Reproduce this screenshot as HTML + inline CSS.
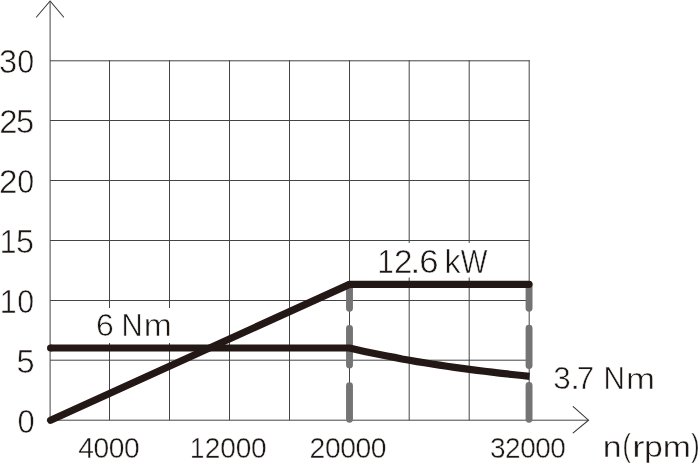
<!DOCTYPE html>
<html><head><meta charset="utf-8"><title>chart</title>
<style>
html,body{margin:0;padding:0;background:#fff;}
body{width:698px;height:465px;overflow:hidden;}
svg{display:block;}
text{font-family:"Liberation Sans",sans-serif;font-size:100px;fill:#1c1614;stroke:#fff;stroke-linejoin:round;}
</style></head><body>
<svg width="698" height="465" viewBox="0 0 698 465">
<rect width="698" height="465" fill="#fff"/>
<path d="M109.5 60.3V420.2M169.5 60.3V420.2M229.5 60.3V420.2M289.5 60.3V420.2M349.5 60.3V420.2M409.2 60.3V420.2M469.2 60.3V420.2M529.2 60.3V420.2M50.1 60.8H529.7M50.1 120.5H529.7M50.1 180.5H529.7M50.1 240.5H529.7M50.1 300.5H529.7M50.1 360.2H529.7" fill="none" stroke="#444" stroke-width="1"/>
<path d="M50.1 1.5V420.2H588.5" fill="none" stroke="#444" stroke-width="1"/>
<path d="M36.5 17L50.1 1L63.6 17M573.2 406.6L588.5 420.2L573.2 432.9" fill="none" stroke="#3a3a3a" stroke-width="1.1" stroke-linecap="round"/>
<rect x="94" y="308" width="80" height="35" fill="#fff"/>
<rect x="376" y="243" width="115" height="34.5" fill="#fff"/>
<g fill="none" stroke="#747474" stroke-width="6.9" stroke-linecap="round">
<path d="M349.5 284.5V308.2M349.5 328.4V364.9M349.5 385.8V419.3"/>
<path d="M529.05 284.5V308.3M529.05 328.2V365.5M529.05 385.5V419.3"/>
</g>
<g fill="none" stroke="#231815" stroke-width="7.2" stroke-linejoin="round">
<path d="M50.6 348.0H349.5L357.0 349.76 364.5 351.43 372.0 353.02 379.5 354.55 387.0 356.00 394.5 357.39 402.0 359.02 409.5 360.30 417.0 361.59 424.5 362.82 432.0 364.02 439.5 365.17 447.0 366.27 454.5 367.34 462.0 368.37 469.5 369.37 477.0 370.34 484.5 371.27 492.0 372.17 499.5 373.05 507.0 373.90 514.5 374.72 522.0 375.52 529.5 376.30" stroke-linecap="butt"/>
<path d="M50.6 420.3L349.5 284.35H529.0" stroke-linecap="round"/>
</g>
<circle cx="50.6" cy="348" r="3.6" fill="#231815"/>
<g fill="none" stroke="#1c1614">

</g>
<g opacity="0.999">
<text stroke-width="1.69" transform="matrix(0.3151 0 0 0.3343 0 73.23)"><tspan x="-3.2" textLength="57.5" lengthAdjust="spacingAndGlyphs">3</tspan><tspan x="54.7" textLength="53.7" lengthAdjust="spacingAndGlyphs">0</tspan></text>
<text x="-2.5 48.8" stroke-width="1.66" transform="matrix(0.3281 0 0 0.3343 0 133.22)">25</text>
<text stroke-width="1.69" transform="matrix(0.3181 0 0 0.3343 0 193.22)"><tspan x="-3" textLength="58.1" lengthAdjust="spacingAndGlyphs">2</tspan><tspan x="54.2" textLength="53.2" lengthAdjust="spacingAndGlyphs">0</tspan></text>
<text stroke-width="1.70" transform="matrix(0.3126 0 0 0.3343 0 253.22)"><tspan x="-0.5" textLength="53.4" lengthAdjust="spacingAndGlyphs">1</tspan><tspan x="51.3" textLength="57.6" lengthAdjust="spacingAndGlyphs">5</tspan></text>
<text x="-0.5 56.9" stroke-width="1.73" transform="matrix(0.3030 0 0 0.3343 0 313.22)">10</text>
<text x="51" stroke-width="1.67" transform="matrix(0.3259 0 0 0.3343 0 373.22)">5</text>
<text x="56.8" stroke-width="1.71" transform="matrix(0.3086 0 0 0.3343 0 433.22)">0</text>
<text x="277.8 331.8 385.8 439.8" stroke-width="1.39" transform="matrix(0.2820 0 0 0.2922 0 457.50)">4000</text>
<text stroke-width="1.40" transform="matrix(0.2805 0 0 0.2922 0 457.50)"><tspan x="677.6" textLength="51.1" lengthAdjust="spacingAndGlyphs">1</tspan><tspan x="730.3 785.2 840.2 895.2">2000</tspan></text>
<text x="1092.4 1146.4 1200.3 1254.3 1308.2" stroke-width="1.39" transform="matrix(0.2834 0 0 0.2922 0 457.50)">20000</text>
<text x="1752.4 1806.3 1860.3 1914.2 1968.1" stroke-width="1.40" transform="matrix(0.2796 0 0 0.2922 0 457.50)">32000</text>
<text stroke-width="1.76" transform="matrix(0.3049 0 0 0.3219 0 335.67)"><tspan x="315.2" textLength="58.3" lengthAdjust="spacingAndGlyphs">6</tspan><tspan x="345.2"> </tspan><tspan x="398.6" textLength="69.3" lengthAdjust="spacingAndGlyphs">N</tspan><tspan x="471.9" font-size="97.3" textLength="92.2" lengthAdjust="spacingAndGlyphs">m</tspan></text>
<text stroke-width="1.73" transform="matrix(0.3128 0 0 0.3249 0 272.88)"><tspan x="1206.9" textLength="51.8" lengthAdjust="spacingAndGlyphs">1</tspan><tspan x="1259.5" textLength="59.1" lengthAdjust="spacingAndGlyphs">2</tspan><tspan x="1310.3" textLength="35" lengthAdjust="spacingAndGlyphs">.</tspan><tspan x="1340.4" textLength="61.8" lengthAdjust="spacingAndGlyphs">6</tspan><tspan x="1370.4"> </tspan><tspan x="1420.9" textLength="51.7" lengthAdjust="spacingAndGlyphs">k</tspan><tspan x="1473.2" textLength="85.3" lengthAdjust="spacingAndGlyphs">W</tspan></text>
<text stroke-width="1.75" transform="matrix(0.3141 0 0 0.3132 0 388.97)"><tspan x="1761.3">3</tspan><tspan x="1813.8" textLength="33.9" lengthAdjust="spacingAndGlyphs">.</tspan><tspan x="1836.1 1866.1">7 </tspan><tspan x="1921" textLength="68.1" lengthAdjust="spacingAndGlyphs">N</tspan><tspan x="1993" font-size="97" textLength="92.6" lengthAdjust="spacingAndGlyphs">m</tspan></text>
<text stroke-width="1.42" transform="matrix(0.3380 0 0 0.2983 0 457.23)"><tspan x="1783.1">n</tspan><tspan x="1841.5" dy="-4.8" font-size="107.4" textLength="24.7" lengthAdjust="spacingAndGlyphs">(</tspan><tspan x="1870.5" dy="4.8" textLength="36.4" lengthAdjust="spacingAndGlyphs">r</tspan><tspan x="1905.3 1960.7">pm</tspan><tspan x="2045.4" dy="-4.8" font-size="107.4" textLength="24.7" lengthAdjust="spacingAndGlyphs">)</tspan></text>
</g>
</svg>
</body></html>
